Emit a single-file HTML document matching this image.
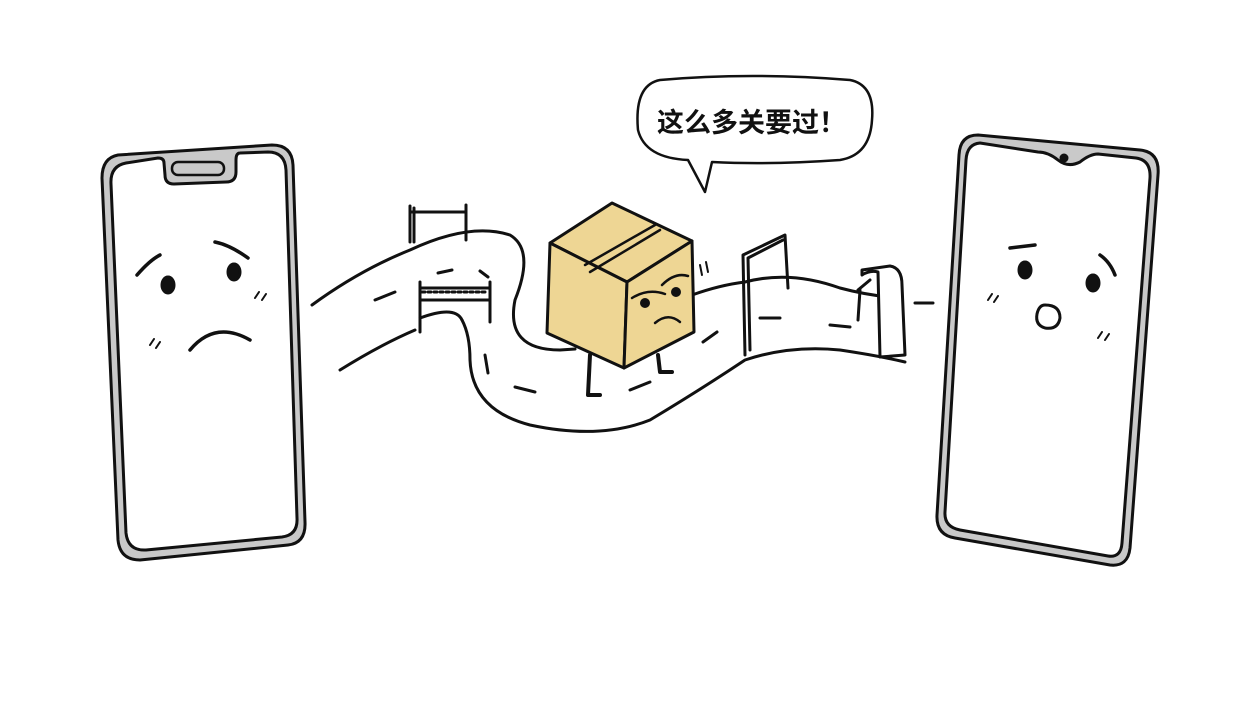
<!DOCTYPE html>
<html><head><meta charset="utf-8"><style>
html,body{margin:0;padding:0;background:#fff;}
svg{display:block}
</style></head><body>
<svg width="1260" height="710" viewBox="0 0 1260 710" xmlns="http://www.w3.org/2000/svg">
<g fill="none" stroke="#111" stroke-width="3" stroke-linecap="round" stroke-linejoin="round">
<!-- left phone -->
<path d="M118,155 Q102,158 102,178 L118,540 Q120,560 140,560 L288,545 Q306,543 305,522 L293,165 Q292,145 272,145 Z" fill="#c9c9c9"/>
<path d="M126,163 Q110,166 111,184 L126,533 Q128,551 146,550 L282,537 Q298,535 297,518 L286,170 Q285,152 268,152 L240,153 Q236,153 236,160 L236,172 Q236,182 226,182 L174,184 Q165,184 165,175 L164,163 Q164,158 158,158 Z" fill="#fff"/>
<rect x="172" y="162" width="52" height="13" rx="6" fill="#c9c9c9" stroke-width="2.5"/>
<!-- right phone -->
<path d="M978,135 Q960,135 959,155 L937,515 Q936,535 955,538 L1110,565 Q1128,567 1130,548 L1158,175 Q1160,152 1140,150 Z" fill="#c9c9c9"/>
<path d="M980,143 Q967,144 966,160 L945,512 Q944,527 960,530 L1108,556 Q1121,558 1122,543 L1150,178 Q1151,160 1136,158 L1098,154 Q1090,154 1080,162 Q1068,168 1058,160 Q1048,152 1038,152 Z" fill="#fff"/>
<circle cx="1064" cy="158" r="3" fill="#111"/>
<!-- left face -->
<path d="M137,275 Q150,260 160,255" stroke-width="3.5"/>
<path d="M215,242 Q230,245 248,258" stroke-width="3.5"/>
<ellipse cx="168" cy="285" rx="6" ry="8" fill="#111"/>
<ellipse cx="234" cy="272" rx="6" ry="8" fill="#111"/>
<path d="M190,350 Q215,320 250,340" stroke-width="3.5"/>
<path d="M150,345 l4,-6 M156,348 l4,-6 M255,298 l4,-6 M262,300 l4,-6" stroke-width="2"/>
<!-- right face -->
<path d="M1010,248 L1035,245" stroke-width="3.5"/>
<path d="M1100,255 Q1110,262 1115,275" stroke-width="3.5"/>
<ellipse cx="1025" cy="270" rx="6" ry="8" fill="#111"/>
<ellipse cx="1093" cy="283" rx="6" ry="8" fill="#111"/>
<path d="M1045,305 Q1060,305 1060,318 Q1058,330 1045,328 Q1035,325 1037,314 Q1039,305 1045,305 Z"/>
<path d="M988,300 l4,-6 M994,302 l4,-6 M1098,338 l4,-6 M1105,340 l4,-6" stroke-width="2"/>
<!-- road -->
<path d="M312,305 Q360,270 410,250 Q470,222 510,235 Q535,250 515,300 Q505,350 560,350 L575,349"/>
<path d="M340,370 Q380,345 415,330 M462,320 Q470,335 470,360 Q472,410 530,425 Q600,440 650,420 Q700,390 745,360 Q790,345 840,350 Q880,356 905,362"/>
<path d="M692,295 Q720,285 745,282 Q790,270 840,288 Q870,296 900,298"/>
<path d="M462,320 Q455,305 420,318"/>
<path d="M375,300 l20,-8 M438,273 l14,-3 M480,271 l8,6 M485,355 l3,18 M515,387 l20,5 M630,390 l20,-8 M703,342 l14,-10 M760,318 l20,0 M830,325 l20,2 M915,303 l18,0" stroke-width="3"/>
<!-- gates -->
<path d="M410,242 L410,206 M466,240 L466,205 M410,212 L466,212 M414,242 L414,208"/>
<path d="M420,332 L420,282 M490,322 L490,282 M420,288 L490,288 M420,300 L490,300" />
<path d="M422,292 L488,292" stroke-dasharray="3,3"/>
<path d="M745,355 L743,255 L785,235 L788,288 M750,350 L748,258 L783,240" />
<path d="M862,270 L890,266 Q902,268 902,285 L905,355 L880,357 L878,272 Q870,270 862,275 Z" fill="#fff"/>
<path d="M858,290 L870,280 M858,320 L860,290"/>
<path d="M700,265 l2,10 M706,262 l2,10" stroke-width="2"/>
<!-- box -->
<path d="M550,243 L612,203 L692,241 L627,282 Z" fill="#eed694"/>
<path d="M550,243 L627,282 L624,368 L547,333 Z" fill="#eed694"/>
<path d="M627,282 L692,241 L694,332 L624,368 Z" fill="#eed694"/>
<path d="M585,265 L655,225 M590,272 L660,230" stroke-width="2.5"/>
<path d="M632,298 Q648,288 665,294 M662,285 Q675,272 688,276" stroke-width="2.5"/>
<circle cx="645" cy="303" r="3.5" fill="#111"/>
<circle cx="676" cy="292" r="3.5" fill="#111"/>
<path d="M655,323 Q668,312 680,322" stroke-width="2.5"/>
<!-- legs -->
<path d="M590,355 L588,395 L600,395 M658,355 L660,372 L672,372" stroke-width="4"/>
<!-- bubble -->
<path d="M660,80 Q750,72 850,80 Q875,85 872,120 Q870,155 840,160 Q770,165 712,162 L705,192 L688,160 Q645,158 638,130 Q634,85 660,80 Z" fill="#fff" stroke-width="2.5"/>
</g>
<text x="657" y="132" font-family="'Liberation Sans','Noto Sans CJK SC',sans-serif" font-size="27" font-weight="bold" fill="#111">这么多关要过！</text>
</svg>
</body></html>
